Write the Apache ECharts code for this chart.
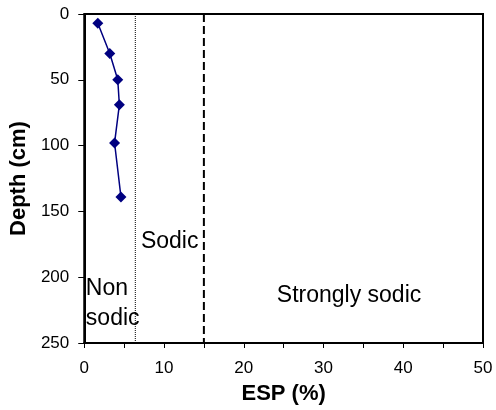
<!DOCTYPE html>
<html><head><meta charset="utf-8">
<script src="https://cdn.jsdelivr.net/npm/echarts@6/dist/echarts.min.js"></script>
<style>html,body{margin:0;padding:0;background:#fff}#c{width:496px;height:410px}</style>
</head><body><div id="c"></div>
<script>
// Data
const espValues = [1.7, 3.2, 4.2, 4.4, 3.8, 4.6];
const depthValues = [7, 30, 50, 69, 98, 139];
const sodicThreshold = 6.4;
const stronglySodicThreshold = 15;
const xTicks = [0, 10, 20, 30, 40, 50];
const yTicks = [0, 50, 100, 150, 200, 250];
const annotations = [
  { text: 'Sodic', esp: 7.1, depth: 173, align: 'left' },
  { text: 'Non\nsodic', esp: 0.2, depth: 220, align: 'left' },
  { text: 'Strongly sodic', esp: 33.2, depth: 214, align: 'center' }
];

const F = 'Liberation Sans, Arial, sans-serif';
const chart = echarts.init(document.getElementById('c'));
chart.setOption({
  animation: false,
  backgroundColor: '#fff',
  grid: { left: 84, right: 13, top: 14, bottom: 67, show: true, borderColor: '#000', borderWidth: 2, backgroundColor: 'transparent' },
  xAxis: {
    type: 'value', min: xTicks[0], max: xTicks[xTicks.length - 1], interval: 5,
    name: 'ESP (%)', nameLocation: 'middle', nameGap: 40,
    nameTextStyle: { fontFamily: F, fontSize: 22, fontWeight: 'bold', color: '#000' },
    axisLine: { show: true, onZero: false, lineStyle: { color: '#000', width: 2 } },
    axisTick: { show: true, length: 5, lineStyle: { color: '#000', width: 1 } },
    axisLabel: { fontFamily: F, fontSize: 17, color: '#000', margin: 17,
      formatter: v => (xTicks.indexOf(v) >= 0 ? String(v) : '') },
    splitLine: { show: false }
  },
  yAxis: {
    type: 'value', inverse: true, min: yTicks[0], max: yTicks[yTicks.length - 1], interval: 50,
    name: 'Depth (cm)', nameLocation: 'middle', nameGap: 51,
    nameTextStyle: { fontFamily: F, fontSize: 22, fontWeight: 'bold', color: '#000' },
    axisLine: { show: true, onZero: false, lineStyle: { color: '#000', width: 2 } },
    axisTick: { show: true, length: 6, lineStyle: { color: '#000', width: 1 } },
    axisLabel: { fontFamily: F, fontSize: 17, color: '#000', margin: 15 },
    splitLine: { show: false }
  },
  series: [
    {
      type: 'line', data: [[sodicThreshold, 0], [sodicThreshold, 250]],
      symbol: 'none', lineStyle: { color: '#000', width: 1, type: [1, 1] }, z: 1
    },
    {
      type: 'line', data: [[stronglySodicThreshold, 0], [stronglySodicThreshold, 250]],
      symbol: 'none', lineStyle: { color: '#000', width: 2, type: [8, 4] }, z: 1
    },
    {
      type: 'line', data: espValues.map((v, i) => [v, depthValues[i]]),
      symbol: 'diamond', symbolSize: 11,
      lineStyle: { color: '#000080', width: 1.5 },
      itemStyle: { color: '#000080' }, z: 3
    },
    {
      type: 'scatter', symbolSize: 0, silent: true,
      itemStyle: { opacity: 1, color: '#000' },
      data: annotations.map(a => ({
        value: [a.esp, a.depth],
        label: { show: true, formatter: a.text, position: 'inside', align: a.align, verticalAlign: 'middle',
          fontFamily: F, fontSize: 23, color: '#000', opacity: 1, lineHeight: 30 }
      }))
    }
  ]
});
</script></body></html>
